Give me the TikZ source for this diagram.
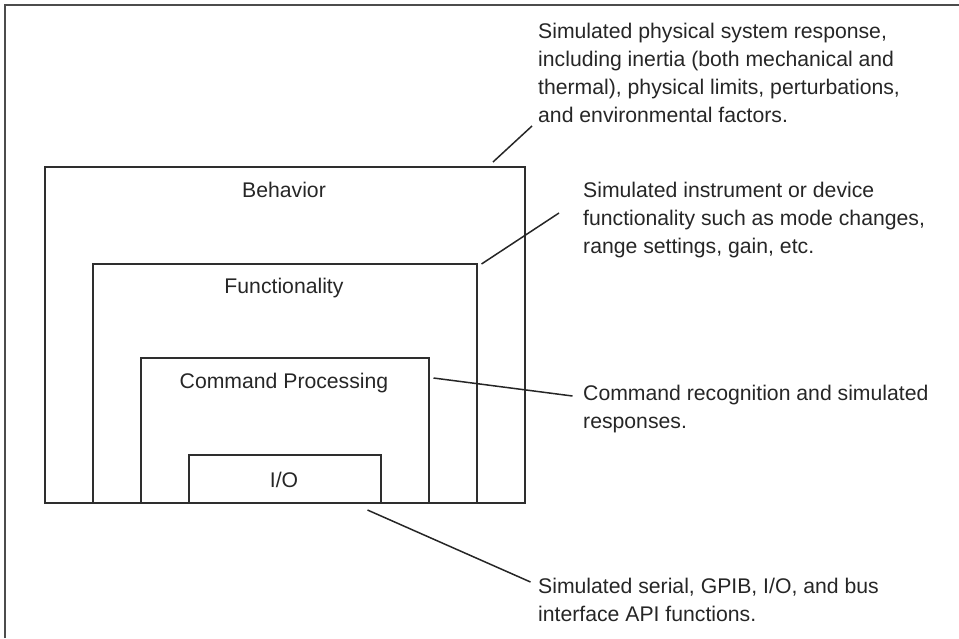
\documentclass[tikz,border=0pt]{standalone}
\usepackage{fontspec}
\setmainfont{Liberation Sans}
\usetikzlibrary{positioning}

\begin{document}
\begin{tikzpicture}[x=1pt, y=-1pt,
  layer/.style={draw=black!82, line width=2pt, inner sep=0pt, anchor=south west},
  tag/.style={font=\fontsize{21.2}{28}\selectfont, text=black!85, inner sep=0pt},
  note/.style={tag, align=left, anchor=base west},
  leader/.style={draw=black!85, line width=1.5pt}]

  \useasboundingbox (0,0) rectangle (959,638);

  % Frame
  \draw[black!70, line width=1.3pt] (5,638) -- (5,5) -- (959,5);

  % Nested layers
  \node[layer, minimum width=480pt, minimum height=336pt] (behavior) at (44,504) {};
  \node[layer, minimum width=384pt, minimum height=239pt] (functionality) at (92,504) {};
  \node[layer, minimum width=288pt, minimum height=145pt] (command) at (140,504) {};
  \node[layer, minimum width=192pt, minimum height=48pt] (io) at (188,504) {};

  \node[tag, anchor=base] (behaviorText) at (284,197.5) {Behavior};
  \node[tag, anchor=base] (functionalityText) at (284,293.5) {Functionality};
  \node[tag, anchor=base] (commandText) at (284,388.5) {Command Processing};
  \node[tag, anchor=base] (ioText) at (284,487) {I/O};

  % Notes (base = last line)
  \node[note] (physNote) at (538,122.5) {Simulated physical system response,\\including inertia (both mechanical and\\thermal), physical limits, perturbations,\\and environmental factors.};
  \node[note] (funcNote) at (583,253.5) {Simulated instrument or device\\functionality such as mode changes,\\range settings, gain, etc.};
  \node[note] (cmdNote) at (583,428.5) {Command recognition and simulated\\responses.};
  \node[note] (ioNote) at (538,621) {Simulated serial, GPIB, I/O, and bus\\interface API functions.};

  % Leaders
  \coordinate (physA) at (493,162);
  \coordinate (physB) at (532,126);
  \coordinate (funcA) at (481.5,264);
  \coordinate (funcB) at (559,213);
  \coordinate (cmdA) at (433.5,378);
  \coordinate (cmdB) at (572.5,396);
  \coordinate (ioA) at (367.5,510);
  \coordinate (ioB) at (530.5,582);

  \draw[leader] (physA) -- (physB);
  \draw[leader] (funcA) -- (funcB);
  \draw[leader] (cmdA) -- (cmdB);
  \draw[leader] (ioA) -- (ioB);
\end{tikzpicture}
\end{document}
